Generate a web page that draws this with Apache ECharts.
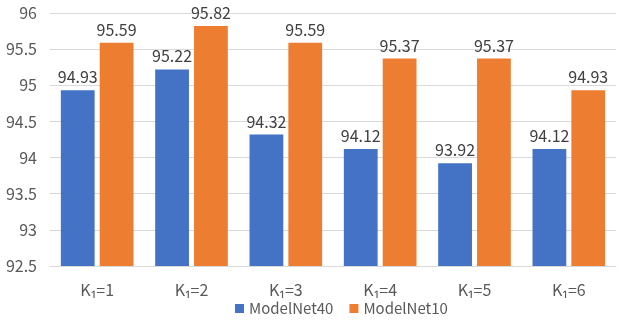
<!DOCTYPE html>
<html><head><meta charset="utf-8">
<script src="https://cdn.jsdelivr.net/npm/echarts@6/dist/echarts.min.js"></script>
<style>html,body{margin:0;padding:0;background:#fff}#c{width:619px;height:324px}</style>
</head><body><div id="c"></div>
<script>
const categories = ['K\u2081=1','K\u2081=2','K\u2081=3','K\u2081=4','K\u2081=5','K\u2081=6'];
const modelNet40 = [94.93, 95.22, 94.32, 94.12, 93.92, 94.12];
const modelNet10 = [95.59, 95.82, 95.59, 95.37, 95.37, 94.93];
const seriesNames = ['ModelNet40', 'ModelNet10'];
const font = '"Noto Sans CJK SC", "Noto Sans", sans-serif';
const chart = echarts.init(document.getElementById('c'), null, {renderer:'canvas'});
const lbl = {show:true, position:'top', color:'#404040', fontSize:16, fontFamily:font, distance:5,
  formatter: p => p.value.toFixed(2)};
chart.setOption({
  animation:false,
  grid:{left:50, right:3, top:13, bottom:58},
  legend:{bottom:3, left:230, itemWidth:9, itemHeight:9, itemGap:16,
    icon:'rect', textStyle:{color:'#595959', fontSize:15, fontFamily:font},
    data:seriesNames},
  xAxis:{type:'category', data:categories,
    axisLine:{lineStyle:{color:'#d9d9d9'}}, axisTick:{show:false},
    axisLabel:{color:'#595959', fontSize:16, fontFamily:font, margin:16}},
  yAxis:{type:'value', min:92.5, max:96, interval:0.5,
    axisLine:{show:false}, axisTick:{show:false},
    splitLine:{lineStyle:{color:'#d9d9d9'}},
    axisLabel:{color:'#595959', fontSize:16, fontFamily:font, margin:13,
      formatter: v => String(+v.toFixed(1))}},
  series:[
    {name:seriesNames[0], type:'bar', data:modelNet40, itemStyle:{color:'#4472C4'},
      barGap:'15%', barCategoryGap:'23%', label:lbl},
    {name:seriesNames[1], type:'bar', data:modelNet10, itemStyle:{color:'#ED7D31'},
      barGap:'15%', barCategoryGap:'23%', label:lbl}
  ]
});
</script></body></html>
